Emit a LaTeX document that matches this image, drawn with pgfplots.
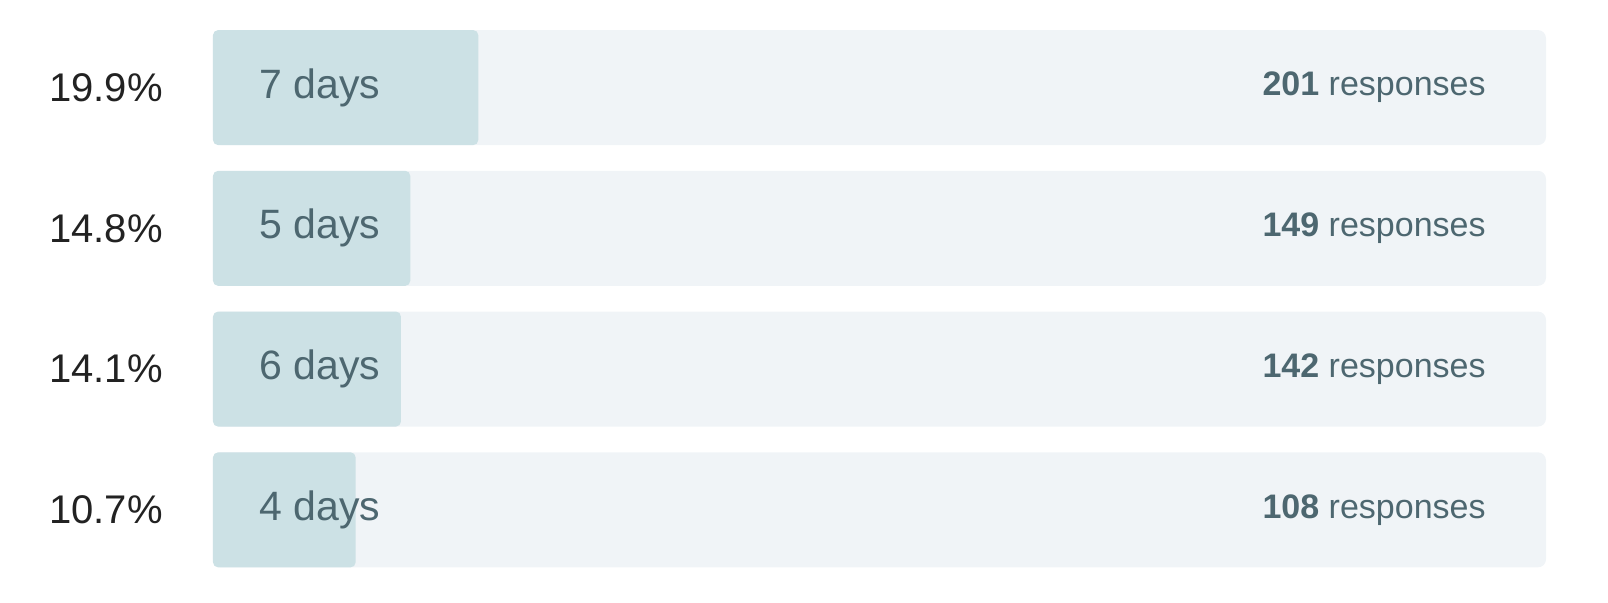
\documentclass[border=0pt]{standalone}
\usepackage{fontspec}
\setmainfont{Liberation Sans}
\usepackage{pgfplots}
\pgfplotsset{compat=1.18}
\usepackage{pgfplotstable}

\definecolor{track}{HTML}{F0F4F7}
\definecolor{barfill}{HTML}{CCE1E5}
\definecolor{labtext}{HTML}{4D6770}
\definecolor{pcttext}{HTML}{222222}

% row, share (%), full track, responses
\pgfplotstableread{
row pct  full resp
0   19.9 100  201
1   14.8 100  149
2   14.1 100  142
3   10.7 100  108
}\answers

\begin{document}
\begin{tikzpicture}
\useasboundingbox (-106.5pt,-11pt) rectangle (697.5pt,290.1pt);
\begin{axis}[
  at={(0pt,0pt)}, anchor=south west,
  scale only axis, width=666.5pt, height=281.5pt,
  xmin=0, xmax=100, ymin=-0.5, ymax=3.5,
  enlargelimits=false,
  y dir=reverse,
  hide axis,
  xbar, bar width=57.5pt, bar shift=0pt,
  clip=false]
\addplot[fill=track, draw=none, rounded corners=4pt] table[x=full, y=row] {\answers};
\addplot[fill=barfill, draw=none, rounded corners=2.5pt] table[x=pct, y=row] {\answers};
\foreach \r/\p/\d/\n in {0/19.9/7/201, 1/14.8/5/149, 2/14.1/6/142, 3/10.7/4/108} {
  \edef\temp{\noexpand\node[anchor=east, inner sep=0pt, text=pcttext, font=\noexpand\fontsize{20}{24}\noexpand\selectfont]
    at (axis cs:0,\r) [xshift=-25pt] {\p\noexpand\%};
  \noexpand\node[anchor=west, inner sep=0pt, text=labtext, font=\noexpand\fontsize{20.5}{24}\noexpand\selectfont]
    at (axis cs:0,\r) [xshift=23pt] {\d\ days};
  \noexpand\node[anchor=east, inner sep=0pt, text=labtext, font=\noexpand\fontsize{17}{20}\noexpand\selectfont]
    at (axis cs:100,\r) [xshift=-30pt] {\noexpand\textbf{\n} responses};}
  \temp
}
\end{axis}
\end{tikzpicture}
\end{document}
